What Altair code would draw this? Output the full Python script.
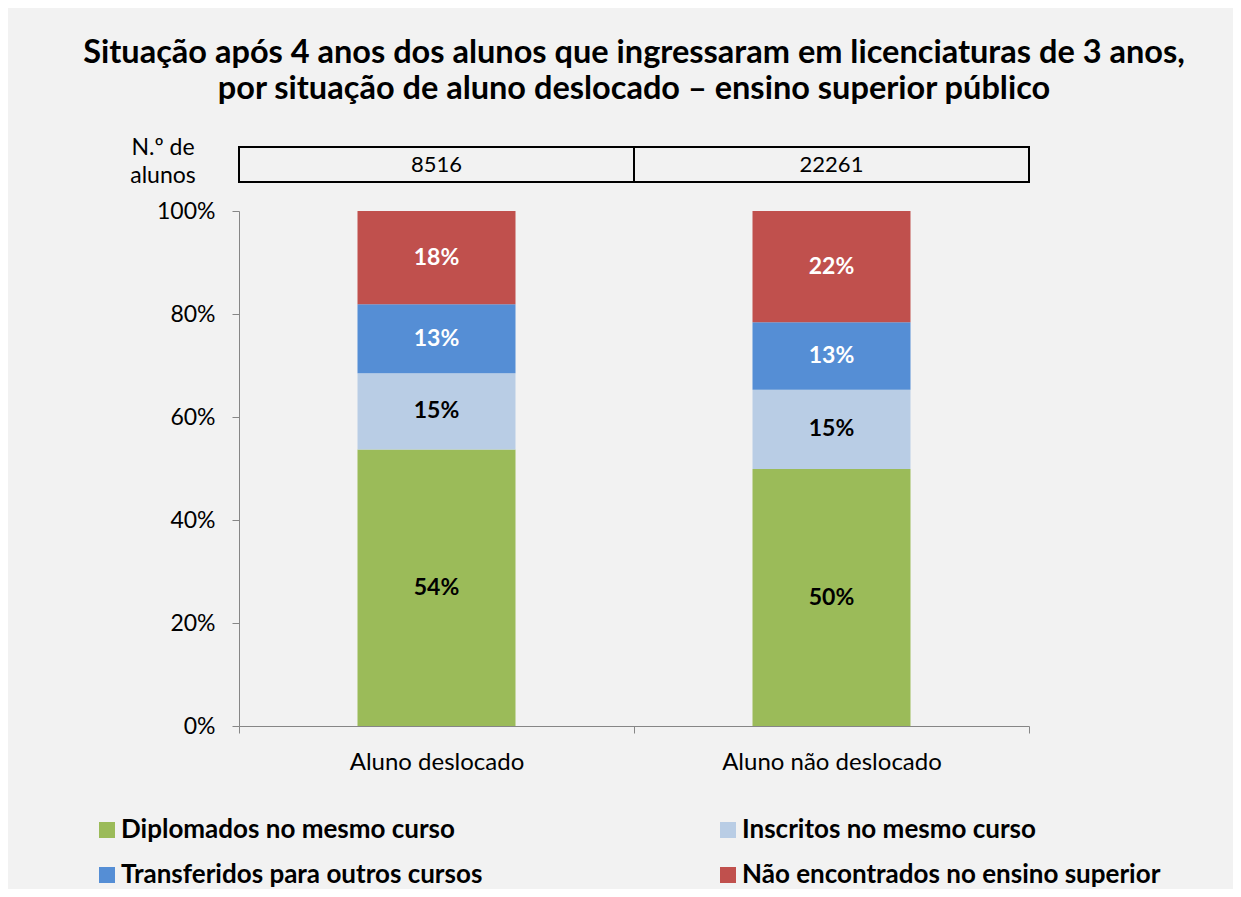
import altair as alt
import pandas as pd

groups = ["Aluno deslocado", "Aluno não deslocado"]
n_alunos = ["8516", "22261"]
categories = [
    "Diplomados no mesmo curso",
    "Inscritos no mesmo curso",
    "Transferidos para outros cursos",
    "Não encontrados no ensino superior",
]
colors = ["#9BBB59", "#B9CDE5", "#558ED5", "#C0504D"]
vals_deslocado = [0.537, 0.148, 0.134, 0.181]
vals_nao_deslocado = [0.499, 0.154, 0.131, 0.216]
title_lines = [
    "Situação após 4 anos dos alunos que ingressaram em licenciaturas de 3 anos,",
    "por situação de aluno deslocado – ensino superior público",
]
table_label = "N.º de\nalunos"

FONT = "Lato"

rows = []
for g, vals in zip(groups, [vals_deslocado, vals_nao_deslocado]):
    for i, (c, v) in enumerate(zip(categories, vals)):
        rows.append({"grupo": g, "situacao": c, "valor": v, "ordem": i})
df = pd.DataFrame(rows)
df_table = pd.DataFrame({"grupo": groups, "n": n_alunos})
df_lab = pd.DataFrame({"t": [table_label]})

x_enc = alt.X(
    "grupo:N",
    sort=groups,
    title=None,
    scale=alt.Scale(paddingInner=0, paddingOuter=0),
    axis=alt.Axis(
        labelAngle=0, tickBand="extent", tickSize=7, labelPadding=17,
        labelFontSize=24, labelFont=FONT, labelColor="black", labelLimit=400,
        domainColor="#868686", tickColor="#868686", grid=False,
    ),
)

base = alt.Chart(df).transform_stack(
    stack="valor", groupby=["grupo"], as_=["y0", "y1"],
    sort=[alt.SortField("ordem", order="ascending")],
).transform_calculate(mid="(datum.y0 + datum.y1) / 2")

bars = base.mark_bar(width=alt.RelativeBandSize(0.4)).encode(
    x=x_enc,
    y=alt.Y(
        "y0:Q", title=None,
        scale=alt.Scale(domain=[0, 1]),
        axis=alt.Axis(
            values=[0, 0.2, 0.4, 0.6, 0.8, 1.0], format=".0%", grid=False,
            tickSize=7, labelPadding=17, labelFontSize=23, labelFont=FONT,
            labelColor="black", domainColor="#868686", tickColor="#868686",
        ),
    ),
    y2="y1:Q",
    color=alt.Color(
        "situacao:N",
        sort=categories,
        scale=alt.Scale(domain=categories, range=colors),
        legend=alt.Legend(
            title=None, orient="none", legendX=-145, legendY=606, padding=0,
            direction="horizontal", columns=2, columnPadding=232, rowPadding=19,
            symbolType="square", symbolSize=256, symbolStrokeWidth=0,
            labelFontSize=26, labelFont=FONT, labelFontWeight="bold",
            labelColor="black", labelOffset=1, labelLimit=700,
        ),
    ),
    order=alt.Order("ordem:Q"),
)

labels = base.mark_text(
    font=FONT, fontSize=23, fontWeight="bold", baseline="middle", align="center"
).encode(
    x=alt.X("grupo:N", sort=groups),
    y=alt.Y("mid:Q"),
    text=alt.Text("valor:Q", format=".0%"),
    color=alt.condition(
        alt.FieldOneOfPredicate(field="situacao", oneOf=categories[2:]),
        alt.value("white"), alt.value("black"),
    ),
)

table_box = alt.Chart(df_table).mark_rect(
    fillOpacity=0, stroke="black", strokeWidth=2
).encode(
    x=alt.X("grupo:N", sort=groups),
    y=alt.value(-64), y2=alt.value(-29),
)

table_text = alt.Chart(df_table).mark_text(
    font=FONT, fontSize=22, baseline="middle", align="center", color="black"
).encode(
    x=alt.X("grupo:N", sort=groups),
    y=alt.value(-46),
    text="n:N",
)

table_lab = alt.Chart(df_lab).mark_text(
    font=FONT, fontSize=23, baseline="middle", align="center", color="black",
    lineBreak="\n", lineHeight=28,
).encode(
    x=alt.value(-76), y=alt.value(-63), text="t:N",
)

chart = alt.layer(bars, labels, table_box, table_text, table_lab).properties(
    width=790, height=515,
    autosize=alt.AutoSizeParams(type="none"),
    padding={"left": 231, "top": 203, "right": 204, "bottom": 163},
    title=alt.TitleParams(
        title_lines, font=FONT, fontSize=32.5, fontWeight="bold", color="black",
        anchor="middle", frame="group", lineHeight=36, offset=32,
    ),
).resolve_scale(color="independent").configure(
    background="#f2f2f2"
).configure_view(stroke=None)

chart.save("out.html", embed_options={"renderer": "svg", "actions": False})
